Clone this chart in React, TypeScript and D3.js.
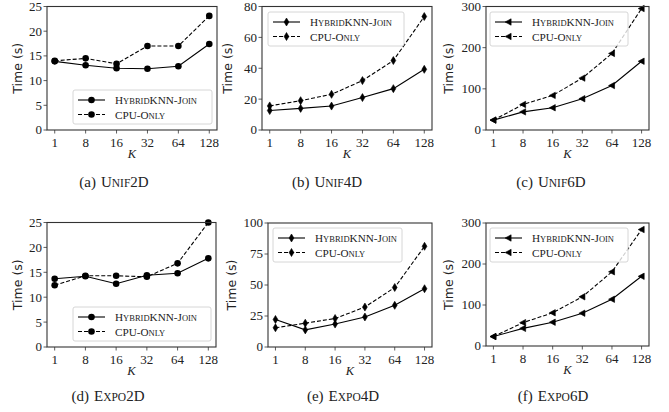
import React from "react";
import * as d3 from "d3";

const K_LABELS = ["1", "8", "16", "32", "64", "128"];

const unif2dHybrid = [13.9, 13.1, 12.5, 12.4, 12.9, 17.4];
const unif2dCpu = [14.0, 14.5, 13.4, 17.0, 17.0, 23.1];
const unif4dHybrid = [12.6, 14.0, 15.5, 21.0, 26.8, 39.3];
const unif4dCpu = [15.6, 19.0, 23.1, 32.0, 45.0, 73.5];
const unif6dHybrid = [24, 44, 54, 76, 108, 167];
const unif6dCpu = [24, 62, 84, 126, 186, 295];
const expo2dHybrid = [13.7, 14.2, 12.7, 14.4, 14.8, 17.8];
const expo2dCpu = [12.4, 14.3, 14.3, 14.1, 16.8, 25.0];
const expo4dHybrid = [22.2, 13.8, 18.5, 24.2, 33.6, 47.0];
const expo4dCpu = [15.5, 19.2, 23.0, 32.2, 48.0, 81.2];
const expo6dHybrid = [23, 43, 58, 80, 114, 170];
const expo6dCpu = [23, 57, 81, 120, 181, 284];

const Y_MAX = [25, 80, 300, 25, 100, 300];
const Y_TICK_STEP = [5, 20, 100, 5, 25, 100];
const CAPTION_LETTER = ["a", "b", "c", "d", "e", "f"];
const CAPTION_HEAD = ["U", "U", "U", "E", "E", "E"];
const CAPTION_SMALL = ["NIF", "NIF", "NIF", "XPO", "XPO", "XPO"];
const CAPTION_TAIL = ["2D", "4D", "6D", "2D", "4D", "6D"];

type Marker = "circle" | "diamond" | "tri";

const panels = [
  { h: unif2dHybrid, c: unif2dCpu, ymax: Y_MAX[0], step: Y_TICK_STEP[0], marker: "circle" as Marker },
  { h: unif4dHybrid, c: unif4dCpu, ymax: Y_MAX[1], step: Y_TICK_STEP[1], marker: "diamond" as Marker },
  { h: unif6dHybrid, c: unif6dCpu, ymax: Y_MAX[2], step: Y_TICK_STEP[2], marker: "tri" as Marker },
  { h: expo2dHybrid, c: expo2dCpu, ymax: Y_MAX[3], step: Y_TICK_STEP[3], marker: "circle" as Marker },
  { h: expo4dHybrid, c: expo4dCpu, ymax: Y_MAX[4], step: Y_TICK_STEP[4], marker: "diamond" as Marker },
  { h: expo6dHybrid, c: expo6dCpu, ymax: Y_MAX[5], step: Y_TICK_STEP[5], marker: "tri" as Marker },
];

// layout: plot frame [left, right, top, bottom], legend box, y-label x, caption center
const layout = [
  { l: 47, r: 217, t: 6.5, b: 130, leg: [73, 90, 139, 34], ylx: 18, capx: 114, capy: 187 },
  { l: 262, r: 432, t: 6.5, b: 130, leg: [268, 12, 136, 34], ylx: 228, capx: 327, capy: 187 },
  { l: 486, r: 649, t: 6.5, b: 130, leg: [490, 12, 138, 34], ylx: 449, capx: 551, capy: 187 },
  { l: 47, r: 216, t: 222.5, b: 347, leg: [73, 307, 138, 34], ylx: 18, capx: 108, capy: 401 },
  { l: 268, r: 432, t: 223, b: 347, leg: [273, 228, 129, 34], ylx: 232, capx: 343, capy: 401 },
  { l: 486, r: 649, t: 223, b: 346, leg: [490, 228, 138, 34], ylx: 449, capx: 553, capy: 401 },
];

const SERIF = "'Liberation Serif', 'DejaVu Serif', serif";
const SANS = "'DejaVu Sans', sans-serif";

function markerPath(m: Marker, x: number, y: number): string {
  if (m === "diamond") {
    return `M${x},${y - 4}L${x + 2.4},${y}L${x},${y + 4}L${x - 2.4},${y}Z`;
  }
  if (m === "tri") {
    return `M${x - 3.4},${y}L${x + 2.6},${y - 3.2}L${x + 2.6},${y + 3.2}Z`;
  }
  return "";
}

function MarkerShape({ m, x, y }: { m: Marker; x: number; y: number }) {
  if (m === "circle") return <circle cx={x} cy={y} r={3.3} fill="#000" />;
  return <path d={markerPath(m, x, y)} fill="#000" stroke="#000" strokeWidth={0.6} />;
}

function LegendText({ which, x, y }: { which: number; x: number; y: number }) {
  const big = 11.2;
  const small = 8.5;
  if (which === 0) {
    return (
      <text x={x} y={y} fontFamily={SERIF} fontSize={big} fill="#222">
        <tspan>H</tspan>
        <tspan fontSize={small}>YBRID</tspan>
        <tspan>KNN-J</tspan>
        <tspan fontSize={small}>OIN</tspan>
      </text>
    );
  }
  return (
    <text x={x} y={y} fontFamily={SERIF} fontSize={big} fill="#222">
      <tspan>CPU-O</tspan>
      <tspan fontSize={small}>NLY</tspan>
    </text>
  );
}

function Panel({ idx }: { idx: number }) {
  const p = panels[idx];
  const L = layout[idx];
  const x = d3.scalePoint<string>().domain(K_LABELS).range([L.l, L.r]).padding(0.25);
  const y = d3.scaleLinear().domain([0, p.ymax]).range([L.b, L.t]);
  const yTicks = d3.range(0, p.ymax + 0.001, p.step);
  const line = d3
    .line<number>()
    .x((_, i) => x(K_LABELS[i]) as number)
    .y((d) => y(d));
  const [lx, ly, lw, lh] = L.leg;
  const midY = (L.t + L.b) / 2;
  return (
    <g>
      <path d={line(p.h) || ""} fill="none" stroke="#000" strokeWidth={1.1} />
      <path d={line(p.c) || ""} fill="none" stroke="#000" strokeWidth={1.1} strokeDasharray="4,2" />
      {p.h.map((v, i) => (
        <MarkerShape key={"h" + i} m={p.marker} x={x(K_LABELS[i]) as number} y={y(v)} />
      ))}
      {p.c.map((v, i) => (
        <MarkerShape key={"c" + i} m={p.marker} x={x(K_LABELS[i]) as number} y={y(v)} />
      ))}
      <rect x={L.l} y={L.t} width={L.r - L.l} height={L.b - L.t} fill="none" stroke="#333" strokeWidth={1.1} />
      {yTicks.map((t) => (
        <g key={"y" + t}>
          <line x1={L.l - 3.5} x2={L.l} y1={y(t)} y2={y(t)} stroke="#333" strokeWidth={0.8} />
          <text
            x={L.l - 5}
            y={y(t)}
            dy="0.34em"
            textAnchor="end"
            fontFamily={SERIF}
            fontSize={13}
            fill="#222"
          >
            {t}
          </text>
        </g>
      ))}
      {K_LABELS.map((k) => (
        <g key={"x" + k}>
          <line x1={x(k)} x2={x(k)} y1={L.b} y2={L.b + 3.5} stroke="#333" strokeWidth={0.8} />
          <text x={x(k)} y={L.b + 16.5} textAnchor="middle" fontFamily={SERIF} fontSize={13} fill="#222">
            {k}
          </text>
        </g>
      ))}
      <text
        x={(L.l + L.r) / 2}
        y={L.b + 28}
        textAnchor="middle"
        fontFamily={SERIF}
        fontStyle="italic"
        fontSize={12.5}
        fill="#222"
      >
        K
      </text>
      <text
        transform={`translate(${L.ylx},${midY}) rotate(-90)`}
        textAnchor="middle"
        dy="0.35em"
        fontFamily={SANS}
        fontSize={12.5}
        fill="#222"
      >
        Time (s)
      </text>
      <rect x={lx} y={ly} width={lw} height={lh} rx={2} fill="#fff" fillOpacity={0.8} stroke="#ccc" strokeWidth={0.8} />
      <line x1={lx + 5} x2={lx + 32} y1={ly + 10} y2={ly + 10} stroke="#000" strokeWidth={1.1} />
      <MarkerShape m={p.marker} x={lx + 18.5} y={ly + 10} />
      <line x1={lx + 5} x2={lx + 32} y1={ly + 24.5} y2={ly + 24.5} stroke="#000" strokeWidth={1.1} strokeDasharray="4,2" />
      <MarkerShape m={p.marker} x={lx + 18.5} y={ly + 24.5} />
      <LegendText which={0} x={lx + 42} y={ly + 14} />
      <LegendText which={1} x={lx + 42} y={ly + 28.5} />
      <text x={L.capx} y={L.capy} textAnchor="middle" fontFamily={SERIF} fontSize={15} fill="#222">
        <tspan>({CAPTION_LETTER[idx]})</tspan>
        <tspan dx={5}>{CAPTION_HEAD[idx]}</tspan>
        <tspan fontSize={11.5}>{CAPTION_SMALL[idx]}</tspan>
        <tspan>{CAPTION_TAIL[idx]}</tspan>
      </text>
    </g>
  );
}

export default function App() {
  return (
    <svg
      width={669}
      height={412}
      viewBox="0 0 669 412"
      style={{ position: "absolute", left: 0, top: 0, background: "#fff" }}
    >
      <rect width={669} height={412} fill="#fff" />
      {panels.map((_, i) => (
        <Panel key={i} idx={i} />
      ))}
    </svg>
  );
}
